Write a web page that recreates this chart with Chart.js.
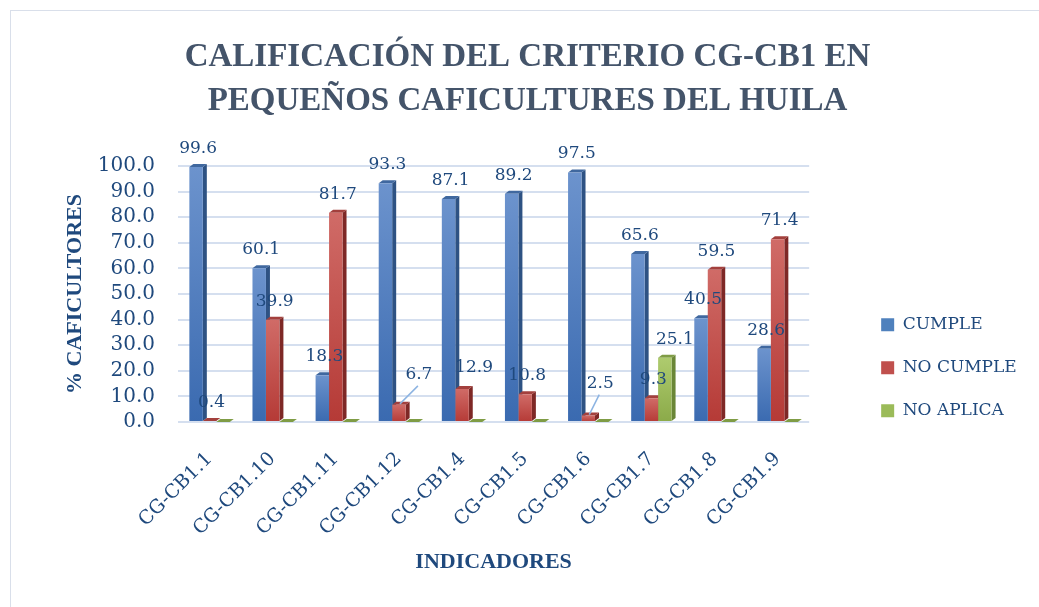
<!DOCTYPE html>
<html>
<head>
<meta charset="utf-8">
<script src="https://cdn.jsdelivr.net/npm/chart.js@4.4.1/dist/chart.umd.min.js"></script>
<style>
html, body { margin: 0; padding: 0; background: #fff; overflow: hidden; }
canvas { position: absolute; left: 0; top: 0; }
#marco { position: absolute; left: 10px; top: 10px; width: 1100px; height: 700px;
  border-left: 1px solid #d9dfea; border-top: 1px solid #d9dfea; pointer-events: none; }
</style>
</head>
<body>
<canvas id="grafico" width="1039" height="607"></canvas>
<div id="marco"></div>
<script>
// datos
const indicadores = ['CG-CB1.1', 'CG-CB1.10', 'CG-CB1.11', 'CG-CB1.12', 'CG-CB1.4',
                     'CG-CB1.5', 'CG-CB1.6', 'CG-CB1.7', 'CG-CB1.8', 'CG-CB1.9'];
const cumple    = [99.6, 60.1, 18.3, 93.3, 87.1, 89.2, 97.5, 65.6, 40.5, 28.6];
const noCumple  = [0.4, 39.9, 81.7, 6.7, 12.9, 10.8, 2.5, 9.3, 59.5, 71.4];
const noAplica  = [0, 0, 0, 0, 0, 0, 0, 25.1, 0, 0];
const series    = ['CUMPLE', 'NO CUMPLE', 'NO APLICA'];
const yMin = 0, yMax = 100, yPaso = 10;

const colorTexto = '#1F497D';
const PX = 4, PY = 3;   // profundidad del efecto 3D

const paletas = [
  { claro: '#6C93CD', oscuro: '#3A6AB0', medio: '#4F81BD', lado: '#2E5283', tapa: '#40689F' },
  { claro: '#D06B67', oscuro: '#B53A36', medio: '#C0504D', lado: '#7E2826', tapa: '#A3403D' },
  { claro: '#AECB6E', oscuro: '#8BAA49', medio: '#9BBB59', lado: '#6A8637', tapa: '#7F9C45' }
];

function relleno(p) {
  return function (ctx) {
    const chart = ctx.chart;
    if (!chart.chartArea || ctx.type !== 'data') return p.medio;
    const y = chart.scales.y;
    const top = y.getPixelForValue(ctx.raw), base = y.getPixelForValue(0);
    if (base - top < 1) return p.medio;
    const g = chart.ctx.createLinearGradient(0, top, 0, base);
    g.addColorStop(0, p.claro);
    g.addColorStop(1, p.oscuro);
    return g;
  };
}

// caras lateral y superior, dibujadas antes de los frentes
const profundidad = {
  id: 'profundidad',
  beforeDatasetsDraw(chart) {
    const c = chart.ctx;
    c.save();
    chart.data.datasets.forEach((ds, i) => {
      const p = paletas[i];
      chart.getDatasetMeta(i).data.forEach(bar => {
        const { x, y, base, width } = bar.getProps(['x', 'y', 'base', 'width'], true);
        const l = x - width / 2, r = x + width / 2;
        c.fillStyle = p.lado;
        c.beginPath();
        c.moveTo(r, y); c.lineTo(r + PX, y - PY); c.lineTo(r + PX, base - PY); c.lineTo(r, base);
        c.closePath(); c.fill();
        c.fillStyle = p.tapa;
        c.beginPath();
        c.moveTo(l, y); c.lineTo(l + PX, y - PY); c.lineTo(r + PX, y - PY); c.lineTo(r, y);
        c.closePath(); c.fill();
      });
    });
    c.restore();
  }
};

// desplazamientos de algunas etiquetas (dataset-indice): [dx, dy, linea guia]
const ajustes = { '1-3': [18, -12, true], '1-6': [10, -14, true], '1-4': [10, -3, false], '2-7': [8, 0, false] };

const etiquetas = {
  id: 'etiquetas',
  afterDatasetsDraw(chart) {
    const c = chart.ctx;
    c.save();
    c.font = '17px "DejaVu Serif"';
    c.textAlign = 'center';
    c.textBaseline = 'alphabetic';
    chart.data.datasets.forEach((ds, i) => {
      chart.getDatasetMeta(i).data.forEach((bar, j) => {
        const v = ds.data[j];
        if (!v) return;
        const a = ajustes[i + '-' + j] || [0, 0, false];
        const x = bar.x + PX / 2 + a[0], y = bar.y - 14 + a[1];
        if (a[2]) {
          c.strokeStyle = '#8DB4E2';
          c.lineWidth = 1.5;
          c.beginPath();
          c.moveTo(bar.x + 1, bar.y - 1);
          c.lineTo(x - 1, y + 7);
          c.stroke();
        }
        c.fillStyle = colorTexto;
        c.fillText(v.toFixed(1), x, y);
      });
    });
    c.restore();
  }
};

const valores = [cumple, noCumple, noAplica];

new Chart(document.getElementById('grafico'), {
  type: 'bar',
  data: {
    labels: indicadores,
    datasets: series.map((s, i) => ({
      label: s,
      data: valores[i],
      backgroundColor: relleno(paletas[i]),
      borderWidth: 0,
      barPercentage: 1.0,
      categoryPercentage: 0.64
    }))
  },
  options: {
    responsive: false,
    animation: false,
    devicePixelRatio: 1,
    layout: { padding: { left: 36, right: 20, top: 0, bottom: 0 } },
    plugins: {
      tooltip: { enabled: false },
      title: {
        display: true,
        text: ['CALIFICACIÓN DEL CRITERIO CG-CB1 EN', 'PEQUEÑOS CAFICULTURES DEL HUILA'],
        color: '#44546A',
        font: { family: '"Liberation Serif"', size: 33, weight: 'bold', lineHeight: 1.333 },
        padding: { top: 35, bottom: 43 }
      },
      legend: {
        position: 'right',
        title: { display: true, text: '', padding: { top: 114, bottom: 0 } },
        labels: {
          color: colorTexto,
          font: { family: '"DejaVu Serif"', size: 17 },
          boxWidth: 13,
          boxHeight: 13,
          padding: 26,
          generateLabels(chart) {
            const items = Chart.defaults.plugins.legend.labels.generateLabels(chart);
            items.forEach((it, i) => { it.fillStyle = paletas[i].medio; it.strokeStyle = paletas[i].medio; it.lineWidth = 0; });
            return items;
          }
        }
      }
    },
    scales: {
      x: {
        grid: { display: false, drawTicks: false },
        border: { display: false },
        ticks: {
          color: colorTexto,
          font: { family: '"DejaVu Serif"', size: 19 },
          minRotation: 45,
          maxRotation: 45,
          padding: 26
        },
        title: {
          display: true,
          text: 'INDICADORES',
          color: colorTexto,
          font: { family: '"Liberation Serif"', size: 22, weight: 'bold', lineHeight: 1.2 },
          padding: { top: 0, bottom: 31 }
        },
        afterFit(s) { s.height = 185; }
      },
      y: {
        min: yMin,
        max: yMax,
        grid: { color: '#d5dfef', lineWidth: 2, drawTicks: false },
        border: { display: false },
        ticks: {
          stepSize: yPaso,
          autoSkip: false,
          color: colorTexto,
          font: { family: '"DejaVu Serif"', size: 20 },
          padding: 23,
          callback: v => v.toFixed(1)
        },
        title: {
          display: true,
          text: '% CAFICULTORES',
          color: colorTexto,
          font: { family: '"Liberation Serif"', size: 22, weight: 'bold', lineHeight: 1.2 },
          padding: { top: 26, bottom: 0 }
        },
        afterFit(s) { s.width = 142; }
      },
      hueco: {
        type: 'linear',
        position: 'right',
        grid: { display: false, drawTicks: false },
        border: { display: false },
        ticks: { display: false },
        afterFit(s) { s.width = 46; }
      }
    }
  },
  plugins: [profundidad, etiquetas]
});
</script>
</body>
</html>
